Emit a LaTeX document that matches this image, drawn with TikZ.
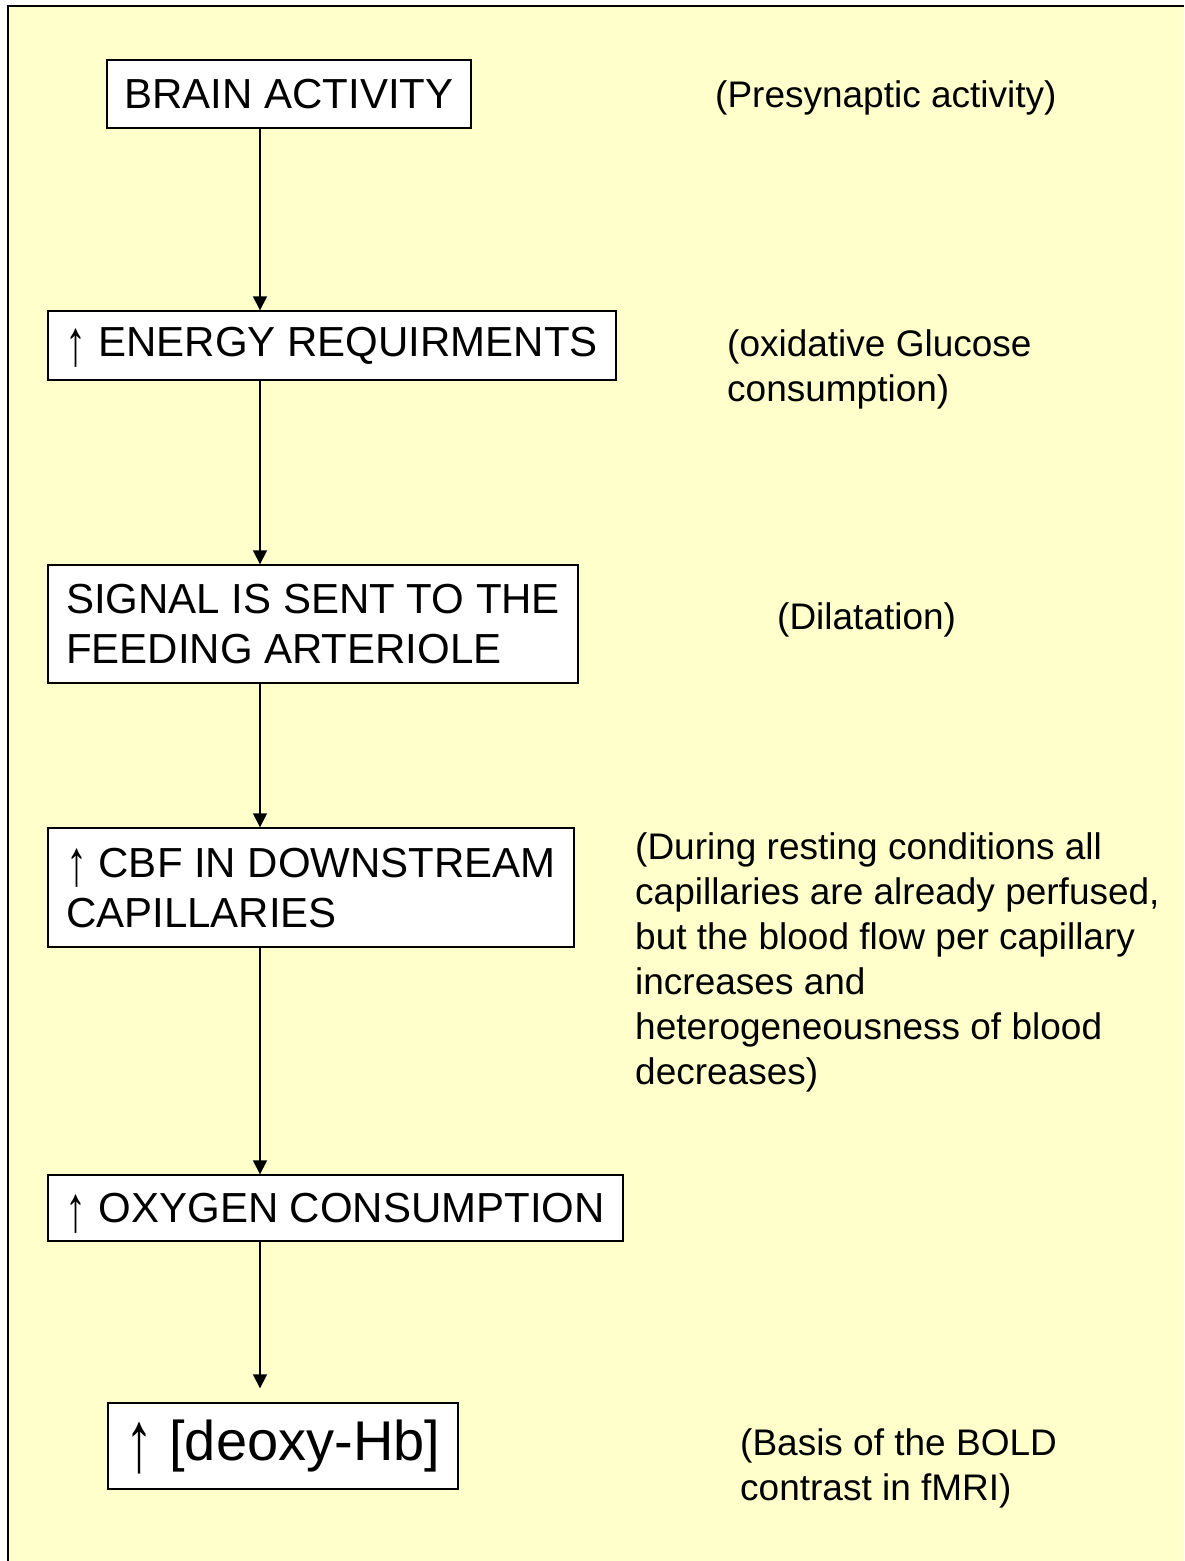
\documentclass[tikz,border=0pt]{standalone}
\usepackage{fontspec}
\usepackage{graphicx}
\setmainfont{Liberation Sans}
\usetikzlibrary{arrows.meta}
\definecolor{bg}{HTML}{FFFFCC}
\newcommand{\uparr}{\raisebox{-0.2em}[0.72em][0pt]{\scalebox{1}[1.55]{↑}}}
\tikzset{
  box/.style={draw=black, line width=1.4pt, fill=white, inner sep=0pt, align=left,
    font=\fontsize{42}{50}\selectfont},
  note/.style={anchor=west, inner sep=0pt, align=left, font=\fontsize{37}{45}\selectfont},
  flow/.style={line width=1.6pt, -{Triangle[length=14pt,width=14pt]}}
}
\begin{document}
\begin{tikzpicture}[x=1pt,y=-1pt]
\useasboundingbox (0,0) rectangle (1184,1561);
\fill[white] (0,0) rectangle (1184,1561);
\fill[bg] (8,6) rectangle (1184,1561);
\draw[line width=1.5pt] (8,1561) -- (8,6) -- (1184,6);
% boxes
\node[box, minimum width=364pt, minimum height=68pt] (b1) at (289,94) {BRAIN ACTIVITY};
\node[box, minimum width=568pt, minimum height=69pt] (b2) at (332,345.5) {\uparr{} ENERGY REQUIRMENTS};
\node[box, minimum width=530pt, minimum height=118pt] (b3) at (313,624) {SIGNAL IS SENT TO THE\\FEEDING ARTERIOLE};
\node[box, minimum width=526pt, minimum height=119pt] (b4) at (311,887.5) {\uparr{} CBF IN DOWNSTREAM\\CAPILLARIES};
\node[box, minimum width=575pt, minimum height=66pt] (b5) at (335.5,1208) {\uparr{} OXYGEN CONSUMPTION};
\node[box, minimum width=350pt, minimum height=86pt, font=\fontsize{56}{62}\selectfont] (b6) at (283,1446) {\uparr{} [deoxy-Hb]};
% notes
\node[note] (n1) at (715,98) {(Presynaptic activity)};
\node[note] (n2) at (727,369) {(oxidative Glucose\\consumption)};
\node[note] (n3) at (777,620) {(Dilatation)};
\node[note] (n4) at (635,962) {(During resting conditions all\\capillaries are already perfused,\\but the blood flow per capillary\\increases and\\heterogeneousness of blood\\decreases)};
\node[note] (n5) at (740,1468) {(Basis of the BOLD\\contrast in fMRI)};
% arrows
\coordinate (ax) at (260,0);
\draw[flow] (b1.south -| ax) -- (b2.north -| ax);
\draw[flow] (b2.south -| ax) -- (b3.north -| ax);
\draw[flow] (b3.south -| ax) -- (b4.north -| ax);
\draw[flow] (b4.south -| ax) -- (b5.north -| ax);
\draw[flow] (b5.south -| ax) -- ([yshift=14pt]b6.north -| ax);
\end{tikzpicture}
\end{document}
